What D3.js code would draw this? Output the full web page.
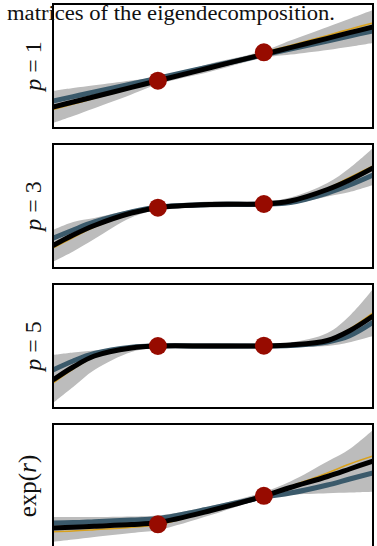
<!DOCTYPE html>
<html>
<head>
<meta charset="utf-8">
<script src="https://cdn.jsdelivr.net/npm/d3@7"></script>
<style>
  html, body { margin: 0; padding: 0; background: #fff; overflow: hidden; }
  svg { display: block; }
</style>
</head>
<body>
<svg id="chart" width="377" height="546"></svg>
<script>
// Input locations where every curve is sampled
const xs = [-1.49, -1.3, -1.1, -0.75, -0.5, 0, 0.5, 0.75, 1.1, 1.31, 1.53];

// Observations (two points per panel)
const obsX = [-0.5, 0.5];
const obsP1 = [-1.47, 1.37];
const obsP3 = [-0.17, 0.2];
const obsP5 = [0, 0.03];
const obsExp = [-3.83, -0.98];

// p = 1
const meanP1  = [-4.1, -3.6, -3.07, -2.14, -1.48, -0.15, 1.17, 1.84, 2.76, 3.33, 3.9];
const truthP1 = [-4.35, -3.81, -3.23, -2.23, -1.51, -0.10, 1.34, 2.05, 3.06, 3.68, 4.3];
const altP1   = [-3.5, -3.06, -2.6, -1.79, -1.21, -0.05, 1.11, 1.69, 2.5, 3.0, 3.5];
const upperP1 = [-2.5, -2.2, -1.92, -1.44, -1.13, 0.25, 1.52, 2.54, 3.91, 4.73, 5.6];
const lowerP1 = [-5.7, -5.0, -4.22, -2.84, -1.83, -0.55, 0.82, 1.14, 1.61, 1.93, 2.3];

// p = 3
const meanP3  = [-3.95, -2.9, -1.95, -0.7, -0.17, 0.15, 0.2, 0.5, 1.65, 2.6, 3.8];
const truthP3 = [-4.2, -3.15, -2.1, -0.8, -0.2, 0.13, 0.2, 0.55, 1.75, 2.85, 4.0];
const altP3   = [-3.23, -2.4, -1.6, -0.6, -0.1, 0.15, 0.18, 0.35, 1.3, 2.1, 3.1];
const upperP3 = [-2.4, -1.6, -1.2, -0.38, 0.05, 0.45, 0.45, 0.85, 2.3, 3.8, 5.8];
const lowerP3 = [-5.57, -4.55, -3.3, -1.15, -0.4, -0.15, -0.05, 0.15, 0.95, 1.4, 2.1];

// p = 5
const meanP5  = [-3.4, -2.1, -1.0, -0.2, 0, 0, 0, 0.1, 0.55, 1.53, 3.0];
const truthP5 = [-3.7, -2.3, -1.1, -0.25, 0, 0, 0, 0.1, 0.6, 1.7, 3.3];
const altP5   = [-2.4, -1.5, -0.75, -0.12, 0, 0, 0, 0.05, 0.4, 1.03, 2.37];
const upperP5 = [-0.9, -0.65, -0.45, -0.15, 0.2, 0.3, 0.2, 0.35, 1.3, 3.03, 5.7];
const lowerP5 = [-5.7, -4.1, -2.4, -0.6, -0.2, -0.3, -0.2, -0.1, 0.0, 0.37, 1.0];

// exp(r)
const meanExp  = [-4.2, -4.12, -4.02, -3.85, -3.65, -2.45, -1.0, -0.15, 0.95, 1.7, 2.5];
const truthExp = [-4.58, -4.5, -4.37, -4.12, -3.88, -2.5, -1.0, -0.05, 1.3, 2.2, 3.0];
const altExp   = [-3.7, -3.66, -3.57, -3.4, -3.25, -2.25, -1.1, -0.7, 0.1, 0.7, 1.3];
const upperExp = [-3.1, -3.1, -3.1, -3.05, -2.95, -2.0, -0.6, 0.45, 2.45, 3.7, 5.6];
const lowerExp = [-5.57, -5.35, -5.1, -4.7, -4.4, -2.9, -1.25, -0.9, -0.73, -0.65, -0.57];

const headline = "matrices of the eigendecomposition.";

const panels = [
  { label: [["p", true], [" = 1", false]], obs: obsP1, mean: meanP1, truth: truthP1, alt: altP1, upper: upperP1, lower: lowerP1 },
  { label: [["p", true], [" = 3", false]], obs: obsP3, mean: meanP3, truth: truthP3, alt: altP3, upper: upperP3, lower: lowerP3 },
  { label: [["p", true], [" = 5", false]], obs: obsP5, mean: meanP5, truth: truthP5, alt: altP5, upper: upperP5, lower: lowerP5 },
  { label: [["exp(", false], ["r", true], [")", false]], obs: obsExp, mean: meanExp, truth: truthExp, alt: altExp, upper: upperExp, lower: lowerExp }
];

// Layout
const frameLeft = 53, frameWidth = 320, frameHeight = 124, panelStep = 140, firstTop = 4;

const colors = {
  band: "#bcbcbc",
  alt: "#3b5a6b",
  truth: "#d9a11c",
  mean: "#000000",
  obs: "#970b00"
};

const svg = d3.select("#chart");
const x = d3.scaleLinear().domain([-1.49, 1.53]).range([frameLeft, frameLeft + frameWidth]);
const curve = d3.curveCatmullRom.alpha(0.5);

panels.forEach((p, i) => {
  const top = firstTop + i * panelStep;
  const y = d3.scaleLinear().domain([-6.2, 6.2]).range([top + frameHeight, top]);
  const g = svg.append("g");

  const clipId = "clip" + i;
  svg.append("clipPath").attr("id", clipId)
    .append("rect").attr("x", frameLeft).attr("y", top)
    .attr("width", frameWidth).attr("height", frameHeight);

  const body = g.append("g").attr("clip-path", `url(#${clipId})`);

  // uncertainty band
  const bandData = xs.map((v, k) => ({ x: v, lo: p.lower[k], hi: p.upper[k] }));
  const area = d3.area().x(d => x(d.x)).y0(d => y(d.lo)).y1(d => y(d.hi)).curve(curve);
  body.append("path").datum(bandData).attr("d", area).attr("fill", colors.band);

  // alternative fit, true function, mean fit
  const line = d3.line().x(d => x(d[0])).y(d => y(d[1])).curve(curve);
  const series = [
    [p.alt, colors.alt, 5],
    [p.truth, colors.truth, 1.6],
    [p.mean, colors.mean, 5]
  ];
  series.forEach(([vals, col, w]) => {
    body.append("path")
      .datum(xs.map((v, k) => [v, vals[k]]))
      .attr("d", line)
      .attr("fill", "none")
      .attr("stroke", col)
      .attr("stroke-width", w)
      .attr("stroke-linecap", "butt");
  });

  // observed points
  body.selectAll("circle.obs").data(obsX.map((v, k) => [v, p.obs[k]]))
    .join("circle").attr("class", "obs")
    .attr("cx", d => x(d[0])).attr("cy", d => y(d[1])).attr("r", 9)
    .attr("fill", colors.obs);

  g.append("rect")
    .attr("x", frameLeft).attr("y", top)
    .attr("width", frameWidth).attr("height", frameHeight)
    .attr("fill", "none").attr("stroke", "#000").attr("stroke-width", 2);

  const cy = top + frameHeight / 2;
  const isExp = i === 3;
  const t = g.append("text")
    .attr("transform", `translate(${isExp ? 36 : 41},${cy}) rotate(-90)`)
    .attr("text-anchor", "middle")
    .attr("font-family", "'Liberation Serif', 'DejaVu Serif', serif")
    .attr("font-size", isExp ? 25 : 24)
    .style("white-space", "pre")
    .attr("fill", "#111");
  p.label.forEach(([s, ital]) => {
    t.append("tspan").text(s)
      .attr("font-style", ital ? "italic" : "normal");
  });
});

svg.append("text")
  .attr("x", 7).attr("y", 20)
  .attr("font-family", "'Liberation Serif', 'DejaVu Serif', serif")
  .attr("font-size", 20)
  .attr("textLength", 328)
  .attr("lengthAdjust", "spacingAndGlyphs")
  .attr("fill", "#111")
  .text(headline);
</script>
</body>
</html>
